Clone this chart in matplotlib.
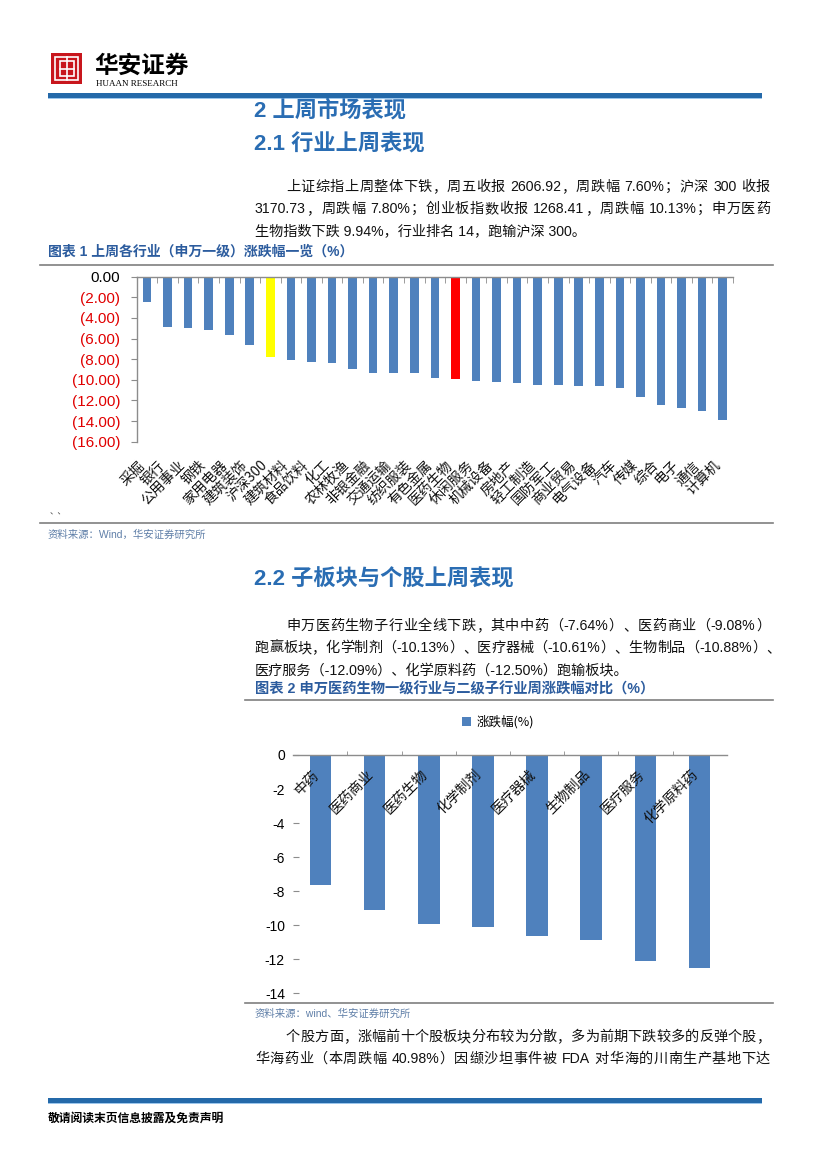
import matplotlib
matplotlib.use("Agg")
import matplotlib.pyplot as plt
from matplotlib.patches import Rectangle
from matplotlib.lines import Line2D
from matplotlib.ticker import FixedLocator

plt.rcParams['font.family'] = ['Noto Sans CJK SC', 'DejaVu Sans']
plt.rcParams['axes.unicode_minus'] = False

# --- data: chart 1 (申万一级行业周涨跌幅) ---
industries = ["采掘", "银行", "公用事业", "钢铁", "家用电器", "建筑装饰", "沪深300",
              "建筑材料", "食品饮料", "化工", "农林牧渔", "非银金融", "交通运输",
              "纺织服装", "有色金属", "医药生物", "休闲服务", "机械设备", "房地产",
              "轻工制造", "国防军工", "商业贸易", "电气设备", "汽车", "传媒", "综合",
              "电子", "通信", "计算机"]
industry_chg = [-2.43, -4.85, -4.95, -5.15, -5.63, -6.60, -7.80,
                -8.06, -8.25, -8.35, -8.93, -9.32, -9.32,
                -9.32, -9.86, -9.94, -10.10, -10.19, -10.29,
                -10.49, -10.49, -10.58, -10.58, -10.78, -11.65, -12.43,
                -12.72, -13.00, -13.88]
chart1_yticks = [0, -2, -4, -6, -8, -10, -12, -14, -16]

# --- data: chart 2 (医药生物子行业) ---
sub_industries = ["中药", "医药商业", "医药生物", "化学制剂", "医疗器械", "生物制品",
                  "医疗服务", "化学原料药"]
sub_chg = [-7.64, -9.08, -9.94, -10.13, -10.61, -10.88, -12.09, -12.50]
chart2_yticks = [0, -2, -4, -6, -8, -10, -12, -14]

para1 = ["上证综指上周整体下铁，周五收报 2606.92，周跌幅 7.60%；沪深 300 收报",
         "3170.73，周跌幅 7.80%；创业板指数收报 1268.41，周跌幅 10.13%；申万医药",
         "生物指数下跌 9.94%，行业排名 14，跑输沪深 300。"]
para2 = ["申万医药生物子行业全线下跌，其中中药（-7.64%）、医药商业（-9.08%）",
         "跑赢板块，化学制剂（-10.13%）、医疗器械（-10.61%）、生物制品（-10.88%）、",
         "医疗服务（-12.09%）、化学原料药（-12.50%）跑输板块。"]
para3 = ["个股方面，涨幅前十个股板块分布较为分散，多为前期下跌较多的反弹个股，",
         "华海药业（本周跌幅 40.98%）因缬沙坦事件被 FDA 对华海的川南生产基地下达"]

W, H = 827, 1169
fig = plt.figure(figsize=(W / 100, H / 100), dpi=100)
fig.patch.set_facecolor("white")
renderer = fig.canvas.get_renderer()


def fx(x):
    return x / W


def fy(y):
    return 1 - y / H


def hline(x0, x1, y, color="#7f7f7f", lw=1.2):
    fig.add_artist(Line2D([fx(x0), fx(x1)], [fy(y), fy(y)], color=color, lw=lw,
                          transform=fig.transFigure))


def blue_bar(y):
    fig.add_artist(Rectangle((fx(48), fy(y + 3)), fx(762) - fx(48), 5 / H,
                             facecolor="#2469a9", edgecolor="none", transform=fig.transFigure))
    fig.add_artist(Rectangle((fx(48), fy(y + 4)), fx(762) - fx(48), 1.2 / H,
                             facecolor="#9cc6ec", edgecolor="none", transform=fig.transFigure))


BODY = ['Liberation Sans', 'Noto Sans CJK SC']
HEAD_BLUE = "#2a6db3"
TITLE_BLUE = "#2c5c9e"
SRC_COLOR = "#5f7fa8"
TEXT_SIZE = 10.2


def tokens(s):
    # CJK chars one by one, latin runs kept together, spaces as separate tokens
    out, buf = [], ""
    for ch in s:
        if ch == " ":
            if buf:
                out.append(buf)
                buf = ""
            out.append(" ")
        elif ord(ch) < 128:
            buf += ch
        else:
            if buf:
                out.append(buf)
                buf = ""
            out.append(ch)
    if buf:
        out.append(buf)
    return out


def paragraph(lines, y0, x_left=255, x_right=770, indent=31, step=22):
    for i, line in enumerate(lines):
        x0 = x_left + (indent if i == 0 else 0)
        y = fy(y0 + step * i)
        if i == len(lines) - 1 and len(lines) > 1 and lines is not para3:
            fig.text(fx(x0), y, line, fontsize=TEXT_SIZE, va="center", ha="left",
                     family=BODY, color="#111111")
            continue
        # justified line: place tokens one by one
        parts = tokens(line)
        space_w = 0.28 * TEXT_SIZE * 100 / 72
        objs, widths = [], []
        for p in parts:
            if p == " ":
                objs.append(None)
                widths.append(space_w)
            else:
                t = fig.text(0, y, p, fontsize=TEXT_SIZE, va="center", ha="left",
                             family=BODY, color="#111111")
                objs.append(t)
                widths.append(t.get_window_extent(renderer).width)
        gap = max(0.0, (x_right - x0 - sum(widths)) / max(1, len(parts) - 1))
        x = x0
        for t, w in zip(objs, widths):
            if t is not None:
                t.set_x(fx(x))
            x += w + gap


# --- header / logo ---
fig.add_artist(Rectangle((fx(51), fy(84)), 31 / W, 31 / H, facecolor="#c8161d",
                         edgecolor="none", transform=fig.transFigure))
fig.add_artist(Rectangle((fx(55), fy(80)), 23 / W, 23 / H, facecolor="none",
                         edgecolor="white", lw=1.2, transform=fig.transFigure))
fig.add_artist(Rectangle((fx(59.5), fy(76)), 14 / W, 15 / H, facecolor="none",
                         edgecolor="white", lw=1.2, transform=fig.transFigure))
fig.add_artist(Line2D([fx(59.5), fx(73.5)], [fy(68.5), fy(68.5)], color="white", lw=1.2,
                      transform=fig.transFigure))
fig.add_artist(Line2D([fx(66.5), fx(66.5)], [fy(57), fy(80)], color="white", lw=1.2,
                      transform=fig.transFigure))
fig.text(fx(94), fy(66), "华安证券", fontsize=17, fontweight="bold", color="black",
         va="center", ha="left")
fig.text(fx(96), fy(84), "HUAAN RESEARCH", fontsize=6.5, family="Liberation Serif",
         va="center", ha="left")
blue_bar(95)

# --- section 2 / 2.1 text ---
fig.text(fx(254), fy(111), "2 上周市场表现", fontsize=16, fontweight="bold",
         color=HEAD_BLUE, va="center", ha="left", family=BODY)
fig.text(fx(254), fy(145), "2.1 行业上周表现", fontsize=16, fontweight="bold",
         color=HEAD_BLUE, va="center", ha="left", family=BODY)
paragraph(para1, 187)

fig.text(fx(48), fy(252), "图表 1 上周各行业（申万一级）涨跌幅一览（%）", fontsize=10,
         fontweight="bold", color=TITLE_BLUE, va="center", ha="left", family=BODY)
hline(40, 773, 265)
hline(40, 773, 523)
fig.text(fx(50), fy(512), "、、", fontsize=6, color="#444444", va="center", ha="left")
fig.text(fx(48), fy(535), "资料来源：Wind，华安证券研究所", fontsize=7.5, color=SRC_COLOR,
         va="center", ha="left", family=BODY)

# --- chart 1 ---
ax1 = fig.add_axes([fx(136.7), fy(441.7), (733 - 136.7) / W, (441.7 - 276.7) / H])
x1 = list(range(len(industries)))
colors1 = []
for name in industries:
    if name == "沪深300":
        colors1.append("#ffff00")
    elif name == "医药生物":
        colors1.append("#ff0000")
    else:
        colors1.append("#4f81bd")
ax1.bar(x1, industry_chg, width=0.42, color=colors1, zorder=2)
ax1.set_xlim(-0.5, len(industries) - 0.5)
ax1.set_ylim(-16, 0)
for s in ["right", "bottom"]:
    ax1.spines[s].set_visible(False)
for s in ["left", "top"]:
    ax1.spines[s].set_color("#8c8c8c")
    ax1.spines[s].set_linewidth(1.0)
ax1.set_yticks(chart1_yticks)
ax1.set_yticklabels(["0.00" if v == 0 else "({:.2f})".format(-v) for v in chart1_yticks],
                    family="Liberation Sans", fontsize=11)
for lbl, v in zip(ax1.get_yticklabels(), chart1_yticks):
    lbl.set_color("black" if v == 0 else "#e00000")
ax1.tick_params(axis="y", length=4, color="#8c8c8c", pad=8)
ax1.set_xticks(x1)
ax1.set_xticklabels(industries, rotation=45, ha="right", fontsize=10, color="#111111")
ax1.tick_params(axis="x", which="major", length=0, pad=12)
ax1.xaxis.set_minor_locator(FixedLocator([i + 0.5 for i in x1]))
ax1.tick_params(axis="x", which="minor", bottom=False, top=True, direction="in",
                length=4, color="#8c8c8c")

# --- section 2.2 text ---
fig.text(fx(254), fy(580), "2.2 子板块与个股上周表现", fontsize=16, fontweight="bold",
         color=HEAD_BLUE, va="center", ha="left", family=BODY)
paragraph(para2, 626)
fig.text(fx(255), fy(689), "图表 2 申万医药生物一级行业与二级子行业周涨跌幅对比（%）",
         fontsize=10.3, fontweight="bold", color=TITLE_BLUE, va="center", ha="left", family=BODY)
hline(245, 773, 700)
hline(245, 773, 1003)
fig.text(fx(255), fy(1014), "资料来源：wind、华安证券研究所", fontsize=7.5, color=SRC_COLOR,
         va="center", ha="left", family=BODY)

# --- chart 2 ---
ax2 = fig.add_axes([fx(293.3), fy(993.3), (726.7 - 293.3) / W, (993.3 - 755) / H])
x2 = list(range(len(sub_industries)))
bars2 = ax2.bar(x2, sub_chg, width=0.4, color="#4f81bd", label="涨跌幅(%)", zorder=2)
ax2.set_xlim(-0.5, len(sub_industries) - 0.5)
ax2.set_ylim(-14, 0)
for s in ["right", "bottom", "left"]:
    ax2.spines[s].set_visible(False)
ax2.spines["top"].set_color("#8c8c8c")
ax2.spines["top"].set_linewidth(1.0)
ax2.set_yticks(chart2_yticks)
ax2.set_yticklabels([str(v) for v in chart2_yticks], family="Liberation Sans", fontsize=10)
ax2.tick_params(axis="y", length=4, direction="in", color="#8c8c8c", pad=6)
ax2.set_xticks([])
ax2.xaxis.set_minor_locator(FixedLocator([i + 0.5 for i in x2[:-1]]))
ax2.tick_params(axis="x", which="minor", bottom=False, top=True, direction="out",
                length=3, color="#8c8c8c")
for xi, name in zip(x2, sub_industries):
    ax2.annotate(name, xy=(xi, 0), xytext=(1, -9), textcoords="offset points",
                 rotation=45, ha="right", va="top", fontsize=10, color="#111111")
ax2.legend(handles=[bars2], loc="center", bbox_to_anchor=(fx(498), fy(722)),
           bbox_transform=fig.transFigure, frameon=False, fontsize=9,
           handlelength=0.7, handleheight=0.7, handletextpad=0.4)

# --- trailing paragraph + footer ---
paragraph(para3, 1037)
blue_bar(1100)
fig.text(fx(48), fy(1118), "敬请阅读末页信息披露及免责声明", fontsize=8.5, fontweight="bold",
         color="black", va="center", ha="left")

fig.savefig("out.png", dpi=100)
